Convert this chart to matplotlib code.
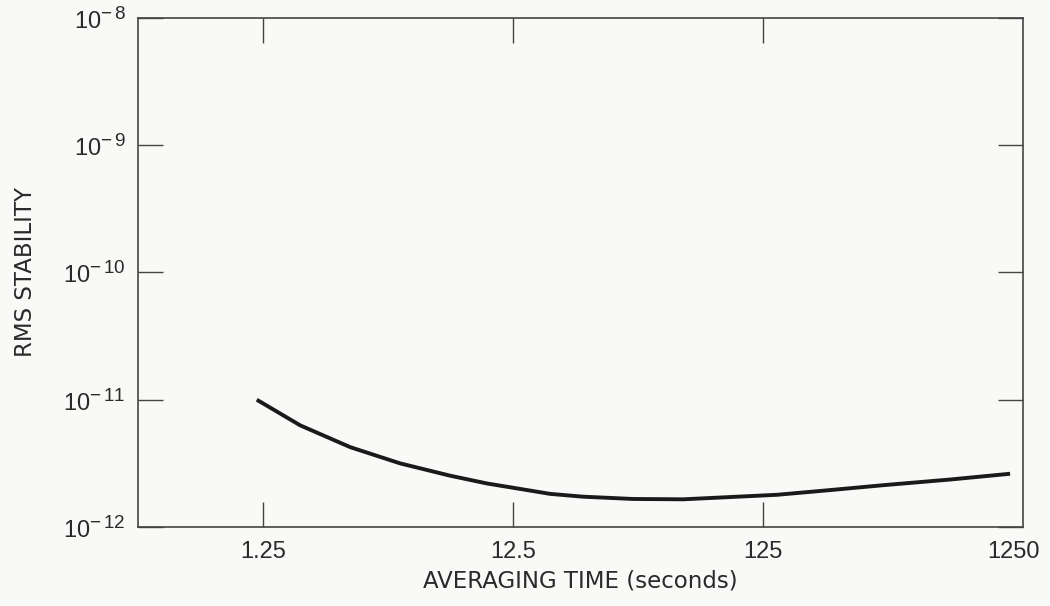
import matplotlib
matplotlib.use("Agg")
import matplotlib.pyplot as plt
import matplotlib._mathtext as mathtext_mod
import numpy as np

plt.rcParams['font.family'] = ['Liberation Sans', 'DejaVu Sans']
plt.rcParams['mathtext.fontset'] = 'custom'
plt.rcParams['mathtext.rm'] = 'Liberation Sans'
plt.rcParams['mathtext.it'] = 'Liberation Sans'
# the scanned labels have big exponents
mathtext_mod.SHRINK_FACTOR = 0.8

# averaging time (s) vs rms stability
tau = [1.18, 1.76, 2.79, 4.42, 7.0, 9.8, 17.6, 23.8, 37.8, 59.9,
       142, 232, 378, 700, 1216]
sigma = [1.0e-11, 6.29e-12, 4.24e-12, 3.16e-12, 2.53e-12, 2.20e-12,
         1.82e-12, 1.73e-12, 1.66e-12, 1.65e-12, 1.79e-12, 1.95e-12,
         2.13e-12, 2.36e-12, 2.62e-12]

xtick_vals = [1.25, 12.5, 125, 1250]
xtick_labels = ['1.25', '12.5', '125', '1250']
ytick_vals = [1e-12, 1e-11, 1e-10, 1e-9, 1e-8]
ytick_labels = [r'$\mathregular{10^{-\,12}}$', r'$\mathregular{10^{-\,11}}$',
                r'$\mathregular{10^{-\,10}}$', r'$\mathregular{10^{-\,9}}$',
                r'$\mathregular{10^{-\,8}}$']

bg = '#f9f9f7'
fig = plt.figure(figsize=(10.5, 6.06), dpi=100, facecolor=bg)
ax = fig.add_axes([0.1314, 0.1304, 0.8429, 0.8399])
ax.set_facecolor(bg)

ax.plot(tau, sigma, color='#1a1a1a', lw=2.8, solid_capstyle='butt',
        solid_joinstyle='round')

ax.set_xscale('log')
ax.set_yscale('log')
ax.set_xlim(0.395, 1370)
ax.set_ylim(1e-12, 1e-8)

ax.set_xticks(xtick_vals)
ax.set_xticklabels(xtick_labels)
ax.set_yticks(ytick_vals)
ax.set_yticklabels(ytick_labels)
ax.minorticks_off()

ax.tick_params(direction='in', length=18, width=1.0, color='#444444',
               top=True, right=True, labelsize=17, labelcolor='#2a2a2a')
ax.tick_params(axis='x', pad=10)
ax.tick_params(axis='y', pad=9)
# no tick mark at 1250, it sits next to the right frame
last = ax.xaxis.get_major_ticks()[-1]
last.tick1line.set_visible(False)
last.tick2line.set_visible(False)

for s in ax.spines.values():
    s.set_color('#444444')
    s.set_linewidth(1.2)

ax.set_xlabel('AVERAGING TIME (seconds)', family='DejaVu Sans', fontsize=16.5,
              color='#2a2a2a', labelpad=5)
ax.set_ylabel('RMS STABILITY', family='DejaVu Sans', fontsize=16.5,
              color='#2a2a2a', labelpad=19)

fig.savefig('out.png', dpi=100, facecolor=fig.get_facecolor())
